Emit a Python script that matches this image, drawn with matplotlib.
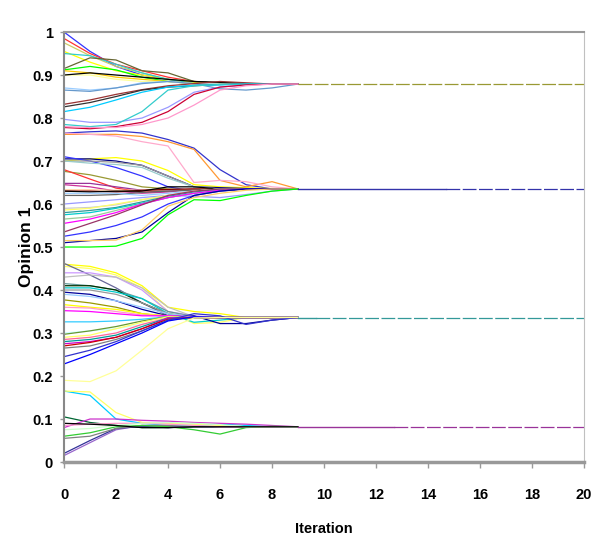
import matplotlib.pyplot as plt

iteration = [0, 1, 2, 3, 4, 5, 6, 7, 8, 9]

# opinion values per run, one list per line
top_lines = [
    [1.000, 0.955, 0.920, 0.900, 0.890, 0.882, 0.880, 0.879, 0.879, 0.879],
    [0.985, 0.950, 0.925, 0.910, 0.895, 0.885, 0.880, 0.879, 0.879, 0.879],
    [0.975, 0.945, 0.920, 0.905, 0.890, 0.885, 0.880, 0.879, 0.879, 0.879],
    [0.955, 0.930, 0.910, 0.900, 0.890, 0.882, 0.880, 0.879, 0.879, 0.879],
    [0.950, 0.945, 0.925, 0.905, 0.890, 0.880, 0.879, 0.879, 0.879, 0.879],
    [0.915, 0.940, 0.935, 0.910, 0.905, 0.885, 0.882, 0.880, 0.879, 0.879],
    [0.912, 0.920, 0.912, 0.895, 0.885, 0.880, 0.879, 0.879, 0.879, 0.879],
    [0.910, 0.905, 0.895, 0.890, 0.885, 0.880, 0.879, 0.879, 0.879, 0.879],
    [0.900, 0.900, 0.890, 0.885, 0.885, 0.880, 0.879, 0.879, 0.879, 0.879],
    [0.900, 0.905, 0.900, 0.895, 0.890, 0.885, 0.883, 0.880, 0.879, 0.879],
    [0.870, 0.865, 0.870, 0.882, 0.885, 0.880, 0.879, 0.879, 0.879, 0.879],
    [0.865, 0.862, 0.870, 0.880, 0.885, 0.880, 0.868, 0.865, 0.870, 0.879],
    [0.832, 0.842, 0.855, 0.866, 0.875, 0.880, 0.885, 0.882, 0.879, 0.879],
    [0.826, 0.836, 0.850, 0.865, 0.872, 0.875, 0.878, 0.879, 0.879, 0.879],
    [0.815, 0.825, 0.842, 0.860, 0.872, 0.876, 0.877, 0.879, 0.879, 0.879],
    [0.797, 0.790, 0.790, 0.800, 0.825, 0.860, 0.872, 0.877, 0.879, 0.879],
    [0.785, 0.780, 0.785, 0.815, 0.865, 0.875, 0.878, 0.879, 0.879, 0.879],
    [0.778, 0.775, 0.780, 0.790, 0.815, 0.855, 0.872, 0.877, 0.879, 0.879],
    [0.780, 0.778, 0.778, 0.785, 0.800, 0.830, 0.865, 0.875, 0.879, 0.879],
]
top_colors = ['#3333ff', '#ff3333', '#cccc66', '#ffff00', '#33cccc', '#666633',
              '#00ff00', '#ffcc00', '#ffff99', '#000000', '#99ccff', '#6699cc',
              '#993333', '#333333', '#00ccff', '#9999ff', '#33cccc', '#cc0033',
              '#ff99cc']

mid_lines = [
    [0.765, 0.768, 0.770, 0.765, 0.750, 0.730, 0.680, 0.645, 0.635, 0.635],
    [0.762, 0.762, 0.762, 0.757, 0.745, 0.727, 0.655, 0.640, 0.652, 0.635],
    [0.765, 0.762, 0.758, 0.745, 0.735, 0.650, 0.655, 0.652, 0.640, 0.635],
    [0.700, 0.705, 0.708, 0.700, 0.678, 0.645, 0.640, 0.638, 0.636, 0.635],
    [0.705, 0.705, 0.700, 0.690, 0.665, 0.640, 0.638, 0.636, 0.635, 0.635],
    [0.710, 0.700, 0.685, 0.665, 0.640, 0.630, 0.632, 0.635, 0.635, 0.635],
    [0.700, 0.700, 0.697, 0.690, 0.665, 0.640, 0.635, 0.635, 0.635, 0.635],
    [0.700, 0.695, 0.692, 0.685, 0.660, 0.640, 0.635, 0.635, 0.635, 0.635],
    [0.676, 0.668, 0.655, 0.640, 0.635, 0.633, 0.635, 0.635, 0.635, 0.635],
    [0.680, 0.658, 0.637, 0.628, 0.630, 0.635, 0.635, 0.635, 0.635, 0.635],
    [0.648, 0.648, 0.640, 0.632, 0.632, 0.635, 0.635, 0.635, 0.635, 0.635],
    [0.645, 0.640, 0.630, 0.625, 0.628, 0.635, 0.635, 0.635, 0.635, 0.635],
    [0.633, 0.633, 0.632, 0.632, 0.633, 0.635, 0.635, 0.635, 0.635, 0.635],
    [0.630, 0.630, 0.628, 0.632, 0.634, 0.635, 0.635, 0.635, 0.635, 0.635],
    [0.630, 0.628, 0.630, 0.630, 0.640, 0.640, 0.635, 0.635, 0.635, 0.635],
    [0.620, 0.620, 0.622, 0.627, 0.630, 0.632, 0.635, 0.635, 0.635, 0.635],
    [0.625, 0.625, 0.625, 0.620, 0.625, 0.630, 0.635, 0.635, 0.635, 0.635],
    [0.600, 0.605, 0.610, 0.615, 0.620, 0.618, 0.615, 0.622, 0.630, 0.635],
    [0.590, 0.592, 0.598, 0.610, 0.620, 0.630, 0.635, 0.635, 0.635, 0.635],
    [0.586, 0.590, 0.600, 0.610, 0.620, 0.630, 0.635, 0.635, 0.635, 0.635],
    [0.580, 0.585, 0.592, 0.605, 0.618, 0.628, 0.635, 0.635, 0.635, 0.635],
    [0.575, 0.580, 0.590, 0.602, 0.615, 0.625, 0.632, 0.635, 0.635, 0.635],
    [0.565, 0.570, 0.585, 0.600, 0.615, 0.625, 0.632, 0.635, 0.635, 0.635],
    [0.555, 0.565, 0.580, 0.600, 0.615, 0.625, 0.632, 0.635, 0.635, 0.635],
    [0.535, 0.555, 0.575, 0.598, 0.620, 0.630, 0.635, 0.635, 0.635, 0.635],
    [0.525, 0.535, 0.550, 0.570, 0.600, 0.620, 0.630, 0.635, 0.635, 0.635],
    [0.510, 0.515, 0.520, 0.535, 0.580, 0.620, 0.630, 0.635, 0.635, 0.635],
    [0.515, 0.515, 0.516, 0.540, 0.595, 0.615, 0.625, 0.632, 0.635, 0.635],
    [0.500, 0.500, 0.502, 0.520, 0.575, 0.610, 0.608, 0.620, 0.630, 0.635],
]
mid_colors = ['#3333cc', '#ff9933', '#ffaacc', '#ffff00', '#000080', '#3333ff',
              '#999999', '#99cccc', '#999933', '#ff3333', '#993399', '#cc3399',
              '#ffcc99', '#800000', '#000000', '#666666', '#99ccff', '#9999ff',
              '#cccccc', '#ffff66', '#339999', '#00cccc', '#99cc99', '#ff00ff',
              '#993366', '#3333ff', '#000099', '#ffcc66', '#00ff00']

low_lines = [
    [0.460, 0.455, 0.440, 0.410, 0.360, 0.350, 0.345, 0.336, 0.336, 0.336],
    [0.455, 0.450, 0.435, 0.405, 0.350, 0.322, 0.325, 0.336, 0.336, 0.336],
    [0.462, 0.435, 0.405, 0.370, 0.340, 0.335, 0.336, 0.336, 0.336, 0.336],
    [0.440, 0.440, 0.430, 0.400, 0.350, 0.340, 0.336, 0.336, 0.336, 0.336],
    [0.430, 0.435, 0.430, 0.405, 0.360, 0.338, 0.336, 0.336, 0.336, 0.336],
    [0.415, 0.410, 0.400, 0.380, 0.350, 0.338, 0.336, 0.336, 0.336, 0.336],
    [0.410, 0.410, 0.400, 0.370, 0.345, 0.335, 0.336, 0.336, 0.336, 0.336],
    [0.405, 0.405, 0.395, 0.380, 0.345, 0.325, 0.330, 0.336, 0.336, 0.336],
    [0.400, 0.400, 0.390, 0.370, 0.345, 0.338, 0.336, 0.336, 0.336, 0.336],
    [0.395, 0.390, 0.375, 0.355, 0.340, 0.340, 0.322, 0.322, 0.330, 0.336],
    [0.390, 0.385, 0.375, 0.360, 0.345, 0.338, 0.336, 0.336, 0.336, 0.336],
    [0.377, 0.370, 0.360, 0.345, 0.338, 0.336, 0.336, 0.336, 0.336, 0.336],
    [0.366, 0.360, 0.355, 0.345, 0.340, 0.336, 0.336, 0.336, 0.336, 0.336],
    [0.360, 0.358, 0.350, 0.342, 0.340, 0.336, 0.336, 0.336, 0.336, 0.336],
    [0.352, 0.350, 0.345, 0.340, 0.340, 0.338, 0.336, 0.336, 0.336, 0.336],
    [0.326, 0.326, 0.328, 0.332, 0.338, 0.336, 0.336, 0.336, 0.336, 0.336],
    [0.300, 0.305, 0.310, 0.320, 0.330, 0.336, 0.336, 0.336, 0.336, 0.336],
    [0.297, 0.305, 0.315, 0.328, 0.338, 0.336, 0.336, 0.336, 0.336, 0.336],
    [0.290, 0.295, 0.310, 0.325, 0.338, 0.336, 0.336, 0.336, 0.336, 0.336],
    [0.285, 0.290, 0.300, 0.320, 0.335, 0.336, 0.336, 0.336, 0.336, 0.336],
    [0.280, 0.285, 0.295, 0.315, 0.335, 0.336, 0.336, 0.336, 0.336, 0.336],
    [0.275, 0.280, 0.290, 0.310, 0.335, 0.336, 0.336, 0.336, 0.336, 0.336],
    [0.270, 0.278, 0.290, 0.310, 0.332, 0.336, 0.336, 0.336, 0.336, 0.336],
    [0.265, 0.270, 0.285, 0.305, 0.330, 0.336, 0.336, 0.336, 0.336, 0.336],
    [0.245, 0.260, 0.280, 0.305, 0.330, 0.345, 0.340, 0.320, 0.330, 0.336],
    [0.228, 0.250, 0.275, 0.300, 0.328, 0.338, 0.336, 0.336, 0.336, 0.336],
    [0.190, 0.187, 0.212, 0.260, 0.310, 0.335, 0.336, 0.336, 0.336, 0.336],
]
low_colors = ['#ffff00', '#ffff66', '#666699', '#cc99ff', '#c0c0c0', '#669999',
              '#003300', '#00cccc', '#999999', '#000099', '#99ccff', '#999900',
              '#ffff00', '#ff99cc', '#ff00ff', '#33ccff', '#ccffff', '#669933',
              '#ffff66', '#ff6699', '#009999', '#cc00cc', '#cc0000', '#808080',
              '#3333cc', '#0000ff', '#ffff99']

bottom_lines = [
    [0.165, 0.155, 0.100, 0.090, 0.085, 0.085, 0.088, 0.085, 0.082, 0.082],
    [0.165, 0.163, 0.115, 0.092, 0.090, 0.088, 0.085, 0.082, 0.082, 0.082],
    [0.105, 0.092, 0.085, 0.080, 0.080, 0.082, 0.082, 0.082, 0.082, 0.082],
    [0.080, 0.100, 0.100, 0.097, 0.095, 0.092, 0.090, 0.088, 0.085, 0.082],
    [0.015, 0.045, 0.075, 0.085, 0.083, 0.082, 0.082, 0.082, 0.082, 0.082],
    [0.020, 0.050, 0.078, 0.083, 0.080, 0.082, 0.082, 0.082, 0.082, 0.082],
    [0.055, 0.060, 0.078, 0.085, 0.085, 0.082, 0.082, 0.082, 0.082, 0.082],
    [0.060, 0.068, 0.082, 0.085, 0.082, 0.075, 0.065, 0.080, 0.083, 0.082],
    [0.085, 0.088, 0.090, 0.090, 0.088, 0.085, 0.082, 0.082, 0.082, 0.082],
    [0.075, 0.078, 0.085, 0.090, 0.092, 0.090, 0.087, 0.082, 0.082, 0.082],
    [0.090, 0.088, 0.085, 0.080, 0.080, 0.082, 0.082, 0.082, 0.082, 0.082],
]
bottom_colors = ['#00ccff', '#ffff66', '#006633', '#cc33cc', '#9966cc', '#333399',
                 '#808080', '#33cc33', '#ff99cc', '#ccffcc', '#000000']

# converged opinion of each group, where its runs stop, and tail colour
final_value = [0.879, 0.635, 0.336, 0.082]
run_end = [9.0, 14.7, 9.7, 12.7]
tail_color = ['#999933', '#3333aa', '#339999', '#993399']

fig = plt.figure(figsize=(6, 5.59), dpi=100)
ax = fig.add_axes([0.1067, 0.1735, 0.8667, 0.7692])

for lines, colors in [(top_lines, top_colors), (mid_lines, mid_colors),
                      (low_lines, low_colors), (bottom_lines, bottom_colors)]:
    for vals, c in zip(lines, colors):
        ax.plot(iteration, vals, color=c, lw=0.9)

for v, e, c in zip(final_value, run_end, tail_color):
    ax.plot([iteration[-1], e], [v, v], color=c, lw=1.0)
    ax.plot([e, 20], [v, v], color=c, lw=0.9, dashes=(11, 2))

ax.set_xlim(0, 20)
ax.set_ylim(0, 1)
ax.set_xticks(range(0, 21, 2))
ax.set_yticks([i / 10 for i in range(11)])
ax.set_yticklabels(['0', '0.1', '0.2', '0.3', '0.4', '0.5', '0.6', '0.7', '0.8', '0.9', '1'])

narrow = ['Liberation Sans Narrow', 'Liberation Sans', 'DejaVu Sans']
for lab in ax.get_xticklabels() + ax.get_yticklabels():
    lab.set_family(narrow)
    lab.set_fontweight('bold')
    lab.set_fontsize(10.5)

ax.tick_params(axis='x', direction='out', length=4, width=1, color='#999999', pad=15)
ax.tick_params(axis='y', direction='out', length=3, width=1, color='#999999', pad=5)

ax.spines['top'].set_color('#999999')
ax.spines['top'].set_linewidth(1.5)
ax.spines['right'].set_color('#c0c0c0')
ax.spines['right'].set_linewidth(0.8)
ax.spines['left'].set_color('#888888')
ax.spines['left'].set_linewidth(1.5)
ax.spines['bottom'].set_color('#999999')
ax.spines['bottom'].set_linewidth(2.5)

ax.set_xlabel('Iteration', family=narrow, fontweight='bold', fontsize=10.5, labelpad=14)
ax.set_ylabel('Opinion 1', family=['Liberation Sans', 'DejaVu Sans'], fontweight='bold',
              fontsize=12.5, labelpad=-1)

plt.savefig('out.png', dpi=100)
